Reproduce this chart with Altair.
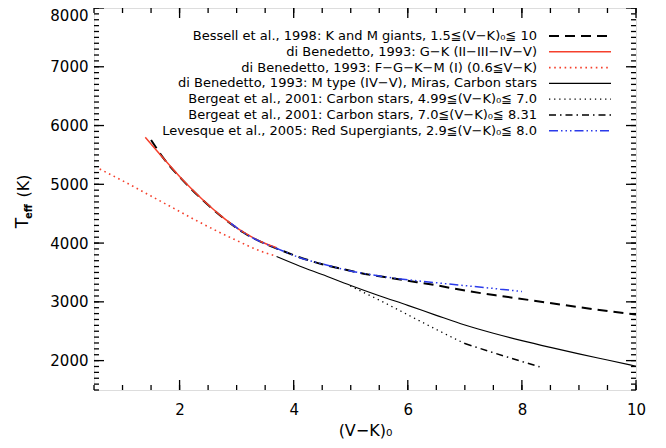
import altair as alt
import pandas as pd

# ---------------- data ----------------
bessell_vk = [1.5, 1.72, 2.07, 2.42, 2.77, 3.12, 3.47, 3.8, 4.1, 4.5, 4.87, 5.28, 5.7, 6.16, 6.45, 7.04, 7.62, 8.21, 8.7, 9.3, 10.0]
bessell_t = [5755, 5440, 5055, 4720, 4425, 4180, 4000, 3870, 3760, 3640, 3555, 3470, 3405, 3335, 3290, 3185, 3100, 3020, 2950, 2870, 2785]

gk_vk = [1.40, 1.72, 2.07, 2.42, 2.77, 3.12, 3.47, 3.70]
gk_t = [5800, 5440, 5060, 4725, 4430, 4185, 4005, 3920]

fgkm_vk = [0.6, 1.1, 1.5, 1.9, 2.3, 2.9, 3.5, 3.65]
fgkm_t = [5260, 5010, 4800, 4590, 4380, 4090, 3835, 3790]

mtype_vk = [3.7, 4.1, 4.5, 5.0, 5.5, 6.0, 6.5, 7.0, 7.5, 8.0, 8.5, 9.0, 9.5, 10.0]
mtype_t = [3770, 3610, 3465, 3280, 3105, 2940, 2770, 2605, 2465, 2340, 2225, 2115, 2010, 1905]

carb1_vk = [4.99, 5.5, 6.0, 6.5, 7.0]
carb1_t = [3270, 3030, 2780, 2530, 2290]

carb2_vk = [7.0, 7.5, 8.0, 8.31]
carb2_t = [2290, 2135, 1985, 1895]

rsg_vk = [2.9, 3.2, 3.5, 3.8, 4.11, 4.5, 5.0, 5.5, 5.87, 6.45, 7.04, 7.62, 8.0]
rsg_t = [4335, 4130, 3990, 3870, 3750, 3645, 3525, 3440, 3390, 3330, 3272, 3216, 3175]

legend_labels = [
    "Bessell et al., 1998: K and M giants, 1.5\u2266(V\u2212K)\u2080\u2266 10",
    "di Benedetto, 1993: G\u2212K (II\u2212III\u2212IV\u2212V)",
    "di Benedetto, 1993: F\u2212G\u2212K\u2212M (I) (0.6\u2266V\u2212K)",
    "di Benedetto, 1993: M type (IV\u2212V), Miras, Carbon stars",
    "Bergeat et al., 2001: Carbon stars, 4.99\u2266(V\u2212K)\u2080\u2266 7.0",
    "Bergeat et al., 2001: Carbon stars, 7.0\u2266(V\u2212K)\u2080\u2266 8.31",
    "Levesque et al., 2005: Red Supergiants, 2.9\u2266(V\u2212K)\u2080\u2266 8.0",
]

x_major = [2, 4, 6, 8, 10]
x_minor = [0.5 * i for i in range(1, 21)]
y_major = [2000, 3000, 4000, 5000, 6000, 7000, 8000]
y_minor = [1500 + 100 * i for i in range(0, 66)]

# ---------------- styles ----------------
RED = "#f5402c"
BLUE = "#2b3bea"
series = [
    (bessell_vk, bessell_t, "black", [10, 6], 2.0),
    (gk_vk, gk_t, RED, None, 1.5),
    (fgkm_vk, fgkm_t, RED, [1.6, 3.6], 1.6),
    (mtype_vk, mtype_t, "black", None, 1.1),
    (carb1_vk, carb1_t, "black", [1.3, 3.8], 1.3),
    (carb2_vk, carb2_t, "black", [7, 4, 1.5, 4], 1.5),
    (rsg_vk, rsg_t, BLUE, [9, 3, 1.5, 3, 1.5, 3, 1.5, 3], 1.5),
]

W, H = 542, 382
FONT = "DejaVu Sans"

xscale = alt.Scale(domain=[0.5, 10], nice=False, zero=False)
yscale = alt.Scale(domain=[1500, 8000], nice=False, zero=False)
X = alt.X("vk:Q", scale=xscale,
          axis=alt.Axis(values=x_major, ticks=False, domain=False, grid=False, format="d",
                        labelFontSize=15, labelFont=FONT, labelColor="black",
                        labelPadding=12, labelFlush=False,
                        title="(V\u2212K)\u2080", titleFont=FONT, titleFontSize=16,
                        titleFontWeight="normal", titleColor="black", titlePadding=5))
Y = alt.Y("teff:Q", scale=yscale,
          axis=alt.Axis(values=y_major, ticks=False, domain=False, grid=False, format="d",
                        labelFontSize=15, labelFont=FONT, labelColor="black",
                        labelPadding=6, labelFlush=True, title=None))

layers = []
for vk, t, color, dash, width in series:
    df = pd.DataFrame({"vk": vk, "teff": t})
    kw = dict(color=color, strokeWidth=width, interpolate="monotone")
    if dash:
        kw["strokeDash"] = dash
    layers.append(alt.Chart(df).mark_line(**kw).encode(x=X, y=Y, order=alt.Order("vk:Q")))

# inward ticks on all four sides
ymaj = pd.DataFrame({"teff": y_major})
ymin = pd.DataFrame({"teff": y_minor})
xmaj = pd.DataFrame({"vk": x_major})
xmin = pd.DataFrame({"vk": x_minor})
tick_kw = dict(color="black", strokeWidth=1.3)
for data, size in [(ymaj, 10), (ymin, 5)]:
    layers.append(alt.Chart(data).mark_rule(**tick_kw).encode(y=Y, x=alt.value(0), x2=alt.value(size)))
    layers.append(alt.Chart(data).mark_rule(**tick_kw).encode(y=Y, x=alt.value(W - size), x2=alt.value(W)))
for data, size in [(xmaj, 10), (xmin, 5)]:
    layers.append(alt.Chart(data).mark_rule(**tick_kw).encode(x=X, y=alt.value(H), y2=alt.value(H - size)))
    layers.append(alt.Chart(data).mark_rule(**tick_kw).encode(x=X, y=alt.value(0), y2=alt.value(size)))

# legend (text right-aligned, line sample to the right)
one = pd.DataFrame({"k": [0]})
for i, (label, (vk, t, color, dash, width)) in enumerate(zip(legend_labels, series)):
    ry = 28 + 15.8 * i
    ldf = pd.DataFrame({"label": [label]})
    layers.append(alt.Chart(ldf).mark_text(align="right", baseline="middle", font=FONT,
                                           fontSize=13, color="black").encode(
        text="label:N", x=alt.value(443), y=alt.value(ry)))
    kw = dict(color=color, strokeWidth=width)
    if dash:
        kw["strokeDash"] = dash
    layers.append(alt.Chart(one).mark_rule(**kw).encode(
        x=alt.value(455), x2=alt.value(517), y=alt.value(ry)))

# y title: T_eff (K)
ytitle = [("T", 17, -71, 215, "normal"), ("eff", 10, -65.5, 203.5, "bold"), ("(K)", 16, -70, 178, "normal")]
for txt, fs, px, py, fw in ytitle:
    tdf = pd.DataFrame({"s": [txt]})
    layers.append(alt.Chart(tdf).mark_text(angle=270, align="center", baseline="middle", font=FONT,
                                           fontSize=fs, fontWeight=fw, color="black").encode(
        text="s:N", x=alt.value(px), y=alt.value(py)))

chart = alt.layer(*layers).properties(
    width=W, height=H,
    autosize=alt.AutoSizeParams(type="none"),
    padding={"left": 86, "top": 0, "right": 22, "bottom": 50},
).configure_view(stroke="black", strokeWidth=1.5).configure(background="white")

chart.save("out.html", embed_options={"renderer": "svg", "actions": False})
